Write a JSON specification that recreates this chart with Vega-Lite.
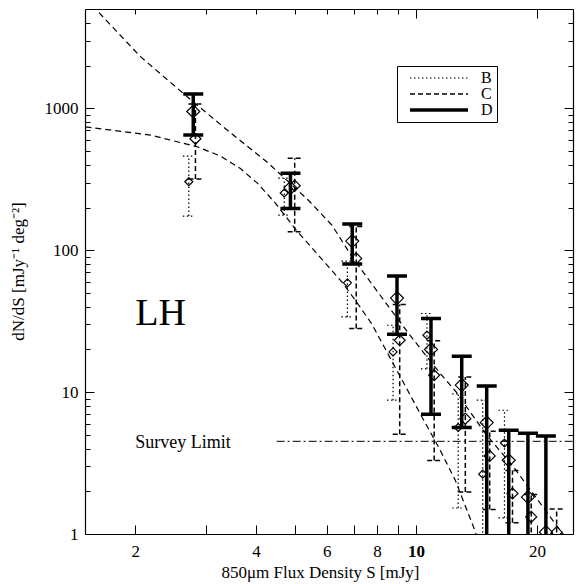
{
  "$schema": "https://vega.github.io/schema/vega-lite/v6.json",
  "width": 488,
  "height": 525,
  "autosize": {"type": "none"},
  "padding": {"left": 85, "top": 9, "right": 5, "bottom": 50},
  "background": "white",
  "config": {
    "font": "Liberation Serif",
    "view": {"stroke": null},
    "axis": {
      "grid": false,
      "domainColor": "black",
      "domainWidth": 1.2,
      "tickColor": "black",
      "tickWidth": 1,
      "labelColor": "black",
      "titleColor": "black",
      "labelFont": "Liberation Serif",
      "titleFont": "Liberation Serif",
      "labelFontSize": 17,
      "titleFontSize": 17,
      "titleFontWeight": "normal",
      "labelOverlap": false,
      "labelFlush": false
    },
    "legend": {
      "padding": 4,
      "rowPadding": 0,
      "labelFont": "Liberation Serif",
      "labelFontSize": 16,
      "labelColor": "black",
      "labelOffset": 34,
      "symbolOffset": 30,
      "symbolType": "M-5.8,0H5.8",
      "symbolSize": 100,
      "symbolStrokeColor": "black",
      "strokeColor": "black",
      "fillColor": "white"
    }
  },
  "datasets": {
    "pts": [
      {"set": "B", "S": 2.72, "N": 304, "lo": 174, "hi": 461},
      {"set": "B", "S": 4.70, "N": 253, "lo": 177, "hi": 322},
      {"set": "B", "S": 6.75, "N": 58.9, "lo": 33.9, "hi": 83.9},
      {"set": "B", "S": 8.77, "N": 19.2, "lo": 8.77, "hi": 29.6},
      {"set": "B", "S": 10.65, "N": 25.2, "lo": 14.6, "hi": 35.8},
      {"set": "B", "S": 12.74, "N": 5.63, "lo": 1.525, "hi": 9.73},
      {"set": "B", "S": 14.66, "N": 2.64, "lo": 0.5, "hi": 8.77},
      {"set": "B", "S": 16.61, "N": 4.38, "lo": 1.3, "hi": 7.45},
      {"set": "C", "S": 2.825, "N": 610, "lo": 317, "hi": 1072},
      {"set": "C", "S": 4.99, "N": 285, "lo": 135, "hi": 444},
      {"set": "C", "S": 7.10, "N": 87.5, "lo": 28.1, "hi": 147},
      {"set": "C", "S": 9.11, "N": 23.2, "lo": 5.05, "hi": 41.4},
      {"set": "C", "S": 11.1, "N": 13.15, "lo": 3.3, "hi": 23.0},
      {"set": "C", "S": 13.27, "N": 6.5, "lo": 1.98, "hi": 12.8},
      {"set": "C", "S": 15.26, "N": 3.55, "lo": 1.49, "hi": 5.3},
      {"set": "C", "S": 17.39, "N": 1.93, "lo": 1.2, "hi": 2.8},
      {"set": "C", "S": 19.36, "N": 1.32, "lo": 0.9, "hi": 1.9},
      {"set": "C", "S": 22.4, "N": 1.03, "lo": 0.9, "hi": 1.5},
      {"set": "D", "S": 2.79, "N": 950, "lo": 648, "hi": 1262},
      {"set": "D", "S": 4.87, "N": 275, "lo": 197, "hi": 348},
      {"set": "D", "S": 6.94, "N": 116, "lo": 79.8, "hi": 153},
      {"set": "D", "S": 8.97, "N": 46, "lo": 25.6, "hi": 65.7},
      {"set": "D", "S": 10.9, "N": 20, "lo": 6.98, "hi": 33.0},
      {"set": "D", "S": 13.0, "N": 11.2, "lo": 5.63, "hi": 17.9},
      {"set": "D", "S": 15.0, "N": 6.1, "lo": 0.5, "hi": 11.06},
      {"set": "D", "S": 17.02, "N": 3.31, "lo": 0.5, "hi": 5.39},
      {"set": "D", "S": 19.0, "N": 1.82, "lo": 0.5, "hi": 5.13},
      {"set": "D", "S": 21.06, "N": 1.03, "lo": 0.5, "hi": 4.91}
    ],
    "model": [
      {"model": "m1", "S": 1.5, "N": 5960},
      {"model": "m1", "S": 1.593, "N": 5012},
      {"model": "m1", "S": 2.062, "N": 2312},
      {"model": "m1", "S": 2.694, "N": 1207},
      {"model": "m1", "S": 3.388, "N": 703},
      {"model": "m1", "S": 4.298, "N": 409},
      {"model": "m1", "S": 5.397, "N": 225},
      {"model": "m1", "S": 6.18, "N": 150},
      {"model": "m1", "S": 6.93, "N": 89.8},
      {"model": "m1", "S": 7.83, "N": 56},
      {"model": "m1", "S": 8.55, "N": 40},
      {"model": "m1", "S": 9.58, "N": 26},
      {"model": "m1", "S": 10.65, "N": 17.7},
      {"model": "m1", "S": 11.38, "N": 14.0},
      {"model": "m1", "S": 12.6, "N": 9.98},
      {"model": "m1", "S": 14.87, "N": 5.13},
      {"model": "m1", "S": 17.49, "N": 2.97},
      {"model": "m1", "S": 22.86, "N": 1.06},
      {"model": "m1", "S": 24.9, "N": 0.79},
      {"model": "m2", "S": 1.504, "N": 741},
      {"model": "m2", "S": 2.183, "N": 648},
      {"model": "m2", "S": 2.852, "N": 536},
      {"model": "m2", "S": 3.262, "N": 461},
      {"model": "m2", "S": 3.656, "N": 376},
      {"model": "m2", "S": 4.03, "N": 297},
      {"model": "m2", "S": 4.467, "N": 214.8},
      {"model": "m2", "S": 5.01, "N": 140.8},
      {"model": "m2", "S": 5.71, "N": 92.4},
      {"model": "m2", "S": 6.545, "N": 59.6},
      {"model": "m2", "S": 7.06, "N": 44.5},
      {"model": "m2", "S": 7.77, "N": 30.1},
      {"model": "m2", "S": 9.05, "N": 13.53},
      {"model": "m2", "S": 10.35, "N": 6.68},
      {"model": "m2", "S": 11.38, "N": 4.11},
      {"model": "m2", "S": 12.53, "N": 2.39},
      {"model": "m2", "S": 13.91, "N": 1.12},
      {"model": "m2", "S": 14.21, "N": 0.948}
    ]
  },
  "layer": [
    {
      "layer": [
        {
          "data": {"name": "model"},
          "mark": {"type": "line", "clip": true, "strokeDash": [6, 4], "strokeWidth": 1.2, "color": "black"},
          "encoding": {
            "x": {
              "field": "S", "type": "quantitative",
              "scale": {"type": "log", "domain": [1.5, 24.6], "nice": false},
              "axis": {
                "orient": "bottom",
                "title": "850μm Flux Density S [mJy]",
                "values": [2, 3, 4, 5, 6, 7, 8, 9, 10, 20],
                "labelExpr": "indexof([2,4,6,8,10,20], datum.value) >= 0 ? '' + datum.value : ''",
                "tickSize": -9,
                "labelPadding": 18,
                "labelBaseline": "top",
                "labelFontWeight": {"condition": {"test": "datum.value == 10", "value": "bold"}, "value": "normal"},
                "titleX": 235,
                "titleY": 43,
                "titleAlign": "center",
                "titleBaseline": "alphabetic"
              }
            },
            "y": {
              "field": "N", "type": "quantitative",
              "scale": {"type": "log", "domain": [1, 5012], "nice": false},
              "axis": {
                "orient": "left",
                "title": "dN/dS [mJy⁻¹ deg⁻²]",
                "values": [1, 2, 3, 4, 5, 6, 7, 8, 9, 10, 20, 30, 40, 50, 60, 70, 80, 90, 100, 200, 300, 400, 500, 600, 700, 800, 900, 1000, 2000, 3000, 4000],
                "labelExpr": "indexof([1,10,100,1000], datum.value) >= 0 ? '' + datum.value : ''",
                "tickSize": {"condition": {"test": "indexof([1,10,100,1000], datum.value) >= 0", "value": -9}, "value": -5},
                "labelPadding": 16,
                "titleX": -67,
                "titleY": 262,
                "titleAngle": -90,
                "titleAlign": "center",
                "titleBaseline": "middle"
              }
            },
            "detail": {"field": "model"},
            "order": {"field": "S", "type": "quantitative"}
          }
        },
        {
          "data": {"name": "pts"},
          "mark": {"type": "rule", "clip": true, "color": "black"},
          "encoding": {
            "x": {"field": "S", "type": "quantitative"},
            "y": {"field": "lo", "type": "quantitative"},
            "y2": {"field": "hi"},
            "strokeDash": {"field": "set", "type": "nominal", "scale": {"domain": ["B", "C", "D"], "range": [[1.5, 2.5], [5, 3], [1, 0]]}, "legend": {"title": null, "orient": "none", "legendX": 312, "legendY": 57, "encode": {"symbols": {"update": {"size": {"value": 100}, "strokeWidth": {"signal": "datum.value === 'D' ? 3.5 : (datum.value === 'C' ? 1.5 : 1.2)"}}}}}},
            "strokeWidth": {"field": "set", "type": "ordinal", "scale": {"type": "ordinal", "domain": ["B", "C", "D"], "range": [1.2, 1.5, 3.5]}, "legend": null}
          }
        },
        {
          "data": {"name": "pts"},
          "transform": [{"filter": "datum.set === 'B'"}, {"fold": ["lo", "hi"], "as": ["k", "v"]}],
          "mark": {"type": "rule", "clip": true, "color": "black", "xOffset": -6, "x2Offset": 6},
          "encoding": {
            "x": {"field": "S", "type": "quantitative"},
            "x2": {"field": "S"},
            "y": {"field": "v", "type": "quantitative"},
            "strokeDash": {"field": "set", "type": "nominal", "scale": {"domain": ["B", "C", "D"], "range": [[1.5, 2.5], [5, 3], [1, 0]]}},
            "strokeWidth": {"field": "set", "type": "ordinal", "scale": {"type": "ordinal", "domain": ["B", "C", "D"], "range": [1.2, 1.5, 3.5]}, "legend": null}
          }
        },
        {
          "data": {"name": "pts"},
          "transform": [{"filter": "datum.set === 'C'"}, {"fold": ["lo", "hi"], "as": ["k", "v"]}],
          "mark": {"type": "rule", "clip": true, "color": "black", "xOffset": -7, "x2Offset": 7},
          "encoding": {
            "x": {"field": "S", "type": "quantitative"},
            "x2": {"field": "S"},
            "y": {"field": "v", "type": "quantitative"},
            "strokeDash": {"field": "set", "type": "nominal", "scale": {"domain": ["B", "C", "D"], "range": [[1.5, 2.5], [5, 3], [1, 0]]}},
            "strokeWidth": {"field": "set", "type": "ordinal", "scale": {"type": "ordinal", "domain": ["B", "C", "D"], "range": [1.2, 1.5, 3.5]}, "legend": null}
          }
        },
        {
          "data": {"name": "pts"},
          "transform": [{"filter": "datum.set === 'D'"}, {"fold": ["lo", "hi"], "as": ["k", "v"]}],
          "mark": {"type": "rule", "clip": true, "color": "black", "xOffset": -10, "x2Offset": 10},
          "encoding": {
            "x": {"field": "S", "type": "quantitative"},
            "x2": {"field": "S"},
            "y": {"field": "v", "type": "quantitative"},
            "strokeDash": {"field": "set", "type": "nominal", "scale": {"domain": ["B", "C", "D"], "range": [[1.5, 2.5], [5, 3], [1, 0]]}},
            "strokeWidth": {"field": "set", "type": "ordinal", "scale": {"type": "ordinal", "domain": ["B", "C", "D"], "range": [1.2, 1.5, 3.5]}, "legend": null}
          }
        },
        {
          "data": {"name": "pts"},
          "transform": [{"filter": "datum.set === 'B'"}],
          "mark": {"type": "point", "shape": "diamond", "filled": false, "color": "black", "strokeWidth": 1.2, "opacity": 1, "clip": true, "size": 64},
          "encoding": {
            "x": {"field": "S", "type": "quantitative"},
            "y": {"field": "N", "type": "quantitative"}
          }
        },
        {
          "data": {"name": "pts"},
          "transform": [{"filter": "datum.set === 'C'"}],
          "mark": {"type": "point", "shape": "diamond", "filled": false, "color": "black", "strokeWidth": 1.2, "opacity": 1, "clip": true, "size": 121},
          "encoding": {
            "x": {"field": "S", "type": "quantitative"},
            "y": {"field": "N", "type": "quantitative"}
          }
        },
        {
          "data": {"name": "pts"},
          "transform": [{"filter": "datum.set === 'D'"}],
          "mark": {"type": "point", "shape": "diamond", "filled": false, "color": "black", "strokeWidth": 1.2, "opacity": 1, "clip": true, "size": 169},
          "encoding": {
            "x": {"field": "S", "type": "quantitative"},
            "y": {"field": "N", "type": "quantitative"}
          }
        },
        {
          "data": {"values": [{}]},
          "mark": {"type": "text", "text": "LH", "fontSize": 38, "align": "left", "baseline": "alphabetic", "font": "Liberation Serif", "color": "black"},
          "encoding": {
            "x": {"datum": 2, "type": "quantitative"},
            "y": {"datum": 29.6, "type": "quantitative"}
          }
        },
        {
          "data": {"values": [{}]},
          "mark": {"type": "text", "text": "Survey Limit", "fontSize": 18, "align": "left", "baseline": "middle", "font": "Liberation Serif", "color": "black"},
          "encoding": {
            "x": {"datum": 2, "type": "quantitative"},
            "y": {"datum": 4.4, "type": "quantitative"}
          }
        }
      ]
    },
    {
      "data": {"values": [{}]},
      "mark": {"type": "rule", "strokeDash": [8, 3, 2, 3], "strokeWidth": 1, "color": "black", "clip": true},
      "encoding": {
        "x": {
          "datum": 4.5, "type": "quantitative",
          "scale": {"type": "log", "domain": [1.5, 24.6], "nice": false},
          "axis": {
            "orient": "top",
            "title": null,
            "labels": false,
            "values": [2, 3, 4, 5, 6, 7, 8, 9, 10, 20],
            "tickSize": {"condition": {"test": "datum.value == 10 || datum.value == 20", "value": -9}, "value": -5}
          }
        },
        "x2": {"datum": 24.6},
        "y": {
          "datum": 4.5, "type": "quantitative",
          "scale": {"type": "log", "domain": [1, 5012], "nice": false},
          "axis": {
            "orient": "right",
            "title": null,
            "labels": false,
            "values": [1, 2, 3, 4, 5, 6, 7, 8, 9, 10, 20, 30, 40, 50, 60, 70, 80, 90, 100, 200, 300, 400, 500, 600, 700, 800, 900, 1000, 2000, 3000, 4000],
            "tickSize": {"condition": {"test": "indexof([1,10,100,1000], datum.value) >= 0", "value": -9}, "value": -5}
          }
        }
      }
    }
  ]
}
